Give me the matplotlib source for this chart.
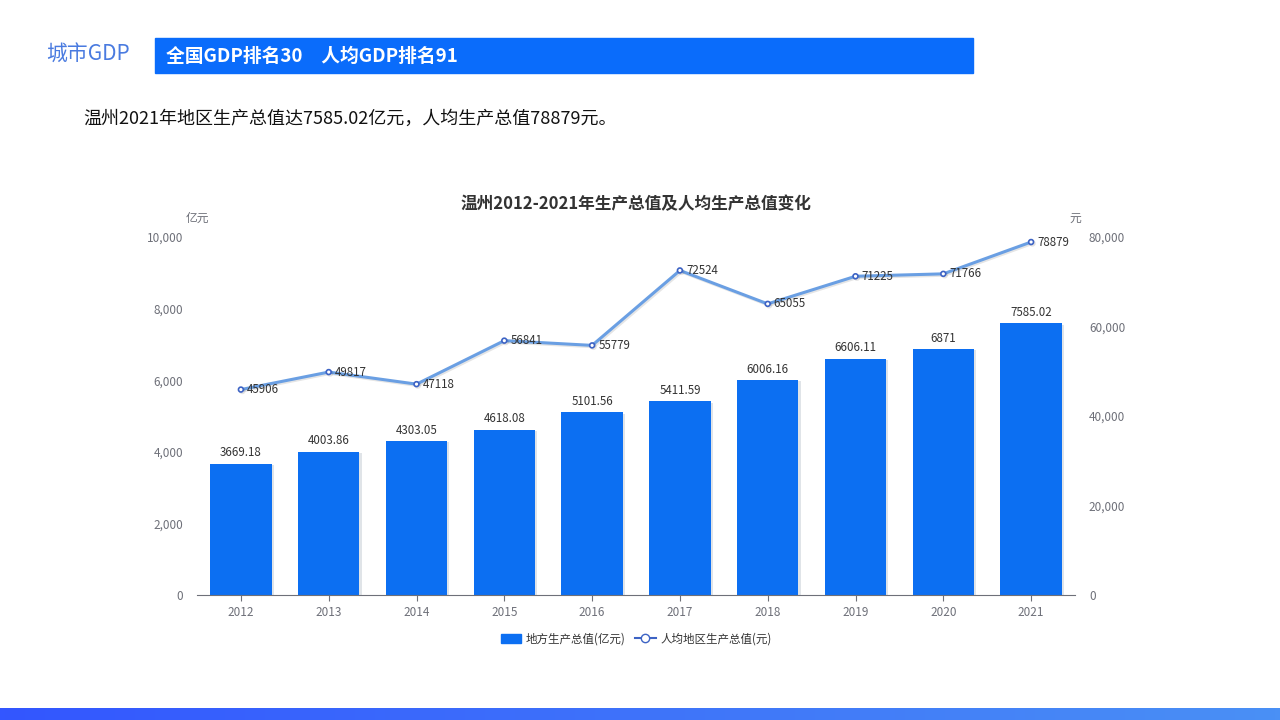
import matplotlib.pyplot as plt
import matplotlib.patheffects as pe
import numpy as np
from matplotlib.patches import Rectangle, Patch
from matplotlib.lines import Line2D
from matplotlib.colors import LinearSegmentedColormap

plt.rcParams['font.family'] = ['Noto Sans CJK SC', 'DejaVu Sans']

years = ['2012', '2013', '2014', '2015', '2016', '2017', '2018', '2019', '2020', '2021']
gdp = [3669.18, 4003.86, 4303.05, 4618.08, 5101.56, 5411.59, 6006.16, 6606.11, 6871, 7585.02]
gdp_labels = ['3669.18', '4003.86', '4303.05', '4618.08', '5101.56', '5411.59', '6006.16', '6606.11', '6871', '7585.02']
per_capita = [45906, 49817, 47118, 56841, 55779, 72524, 65055, 71225, 71766, 78879]

bar_color = '#0c6ff2'
line_color = '#6a9fe3'
gray = '#6e7079'

fig = plt.figure(figsize=(12.8, 7.2), dpi=100)

# header
fig.text(46 / 1280, 1 - 55 / 720, '城市GDP', fontsize=15, color='#4a7be0', va='center', ha='left')
fig.patches.append(Rectangle((155 / 1280, 1 - 73 / 720), 818 / 1280, 35 / 720,
                             transform=fig.transFigure, color='#0a6cfb', zorder=0))
fig.text(166 / 1280, 1 - 56 / 720, '全国GDP排名30　人均GDP排名91', fontsize=13.5,
         color='white', fontweight='bold', va='center', ha='left')
fig.text(83 / 1280, 1 - 119 / 720, '温州2021年地区生产总值达7585.02亿元，人均生产总值78879元。',
         fontsize=13, color='#111111', va='center', ha='left')

# bottom gradient strip
grad = np.linspace(0, 1, 256).reshape(1, -1)
gax = fig.add_axes([0, 0, 1, 12 / 720])
cmap = LinearSegmentedColormap.from_list('g', ['#3356ff', '#4a90f5'])
gax.imshow(grad, aspect='auto', cmap=cmap)
gax.axis('off')

# main chart
ax = fig.add_axes([197 / 1280, 125 / 720, 878 / 1280, 358 / 720])
x = np.arange(len(years))
ax.bar(x, gdp, width=0.7, color=bar_color, zorder=2,
       path_effects=[pe.SimplePatchShadow(offset=(1.5, -1), alpha=0.12), pe.Normal()])
for xi, v, lab in zip(x, gdp, gdp_labels):
    ax.text(xi, v + 120, lab, ha='center', va='bottom', fontsize=8.3, color='#333333')

ax.set_xlim(-0.5, len(years) - 0.5)
ax.set_ylim(0, 10000)
ax.set_yticks([0, 2000, 4000, 6000, 8000, 10000])
ax.set_yticklabels(['0', '2,000', '4,000', '6,000', '8,000', '10,000'])
ax.set_xticks(x)
ax.set_xticklabels(years)
ax.tick_params(axis='y', length=0, labelsize=8.5, labelcolor=gray, pad=10)
ax.tick_params(axis='x', length=4, color=gray, labelsize=8.5, labelcolor=gray, pad=4)
for s in ['top', 'right', 'left']:
    ax.spines[s].set_visible(False)
ax.spines['bottom'].set_color(gray)

ax2 = ax.twinx()
ax2.plot(x, per_capita, color=line_color, lw=2.2, marker='o', ms=3.5,
         mfc='white', mec='#3d63c4', mew=1.2, zorder=3,
         path_effects=[pe.SimpleLineShadow(offset=(1, -1), alpha=0.1), pe.Normal()])
for xi, v in zip(x, per_capita):
    ax2.text(xi + 0.07, v, str(v), ha='left', va='center', fontsize=8.3, color='#333333')
ax2.set_ylim(0, 80000)
ax2.set_yticks([0, 20000, 40000, 60000, 80000])
ax2.set_yticklabels(['0', '20,000', '40,000', '60,000', '80,000'])
ax2.tick_params(axis='y', length=0, labelsize=8.5, labelcolor=gray, pad=10)
for s in ['top', 'right', 'left', 'bottom']:
    ax2.spines[s].set_visible(False)

fig.text(197 / 1280, 1 - 218 / 720, '亿元', fontsize=8.5, color=gray, ha='center', va='center')
fig.text(1075 / 1280, 1 - 218 / 720, '元', fontsize=8.5, color=gray, ha='center', va='center')
fig.text(636 / 1280, 1 - 204 / 720, '温州2012-2021年生产总值及人均生产总值变化', fontsize=12,
         fontweight='bold', color='#333333', ha='center', va='center')

# legend
handles = [Patch(facecolor=bar_color, edgecolor=bar_color),
           Line2D([0], [0], color='#3d63c4', lw=1.5, marker='o', ms=6, mfc='white', mec='#3d63c4')]
fig.legend(handles, ['地方生产总值(亿元)', '人均地区生产总值(元)'], loc='center',
           bbox_to_anchor=(636 / 1280, 1 - 639 / 720), ncol=2, frameon=False, fontsize=8.3,
           handlelength=1.8, handletextpad=0.4, columnspacing=0.8, labelcolor='#333333')

fig.savefig('out.png', dpi=100)
